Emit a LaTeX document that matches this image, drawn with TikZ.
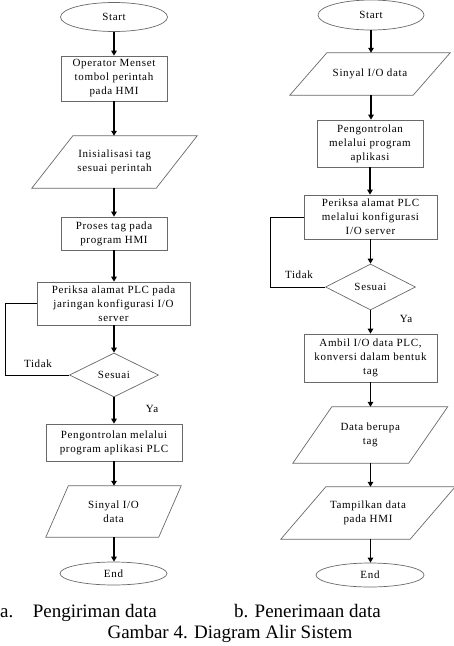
\documentclass[tikz,border=0pt]{standalone}
\usepackage{fontspec}
\setmainfont{Liberation Serif}
\newfontfamily\boxfont[LetterSpace=6]{Liberation Serif}
\usetikzlibrary{shapes.geometric,arrows.meta}
\newcommand\drawpara[2]{\draw[boxline] ([xshift=#2/2]#1.north west) -- ([xshift=#2/2]#1.north east) -- ([xshift=-#2/2]#1.south east) -- ([xshift=-#2/2]#1.south west) -- cycle;}
\definecolor{edgegray}{RGB}{105,105,105}
\tikzset{
  boxline/.style={draw=edgegray, line width=0.7pt},
  txt/.style={font=\boxfont\fontsize{11}{14}\selectfont, align=center, inner sep=0pt},
  procbox/.style={txt, boxline, rectangle},
  termbox/.style={txt, boxline, ellipse},
  decbox/.style={txt, boxline, diamond},
  iobox/.style={txt, rectangle},
  arr/.style={line width=1.6pt, -{Triangle[width=5.5pt,length=5pt]}},
  fb/.style={line width=0.8pt, black},
  lbl/.style={font=\boxfont\fontsize{11}{14}\selectfont, inner sep=0pt},
  captxt/.style={font=\fontsize{19}{22}\selectfont, inner sep=0pt}
}
\begin{document}
\begin{tikzpicture}[x=1pt, y=-1pt]
\useasboundingbox (0,0) rectangle (454,646);
% ---------- left column ----------
\node[termbox, minimum width=107pt, minimum height=29pt] (sA) at (114,17) {Start};
\node[procbox, minimum width=106pt, minimum height=45pt] (a1) at (114,78.5) {Operator Menset\\tombol perintah\\pada HMI};
\node[iobox, minimum width=124pt, minimum height=52pt] (a2) at (114.5,162) {Inisialisasi tag\\sesuai perintah};
\drawpara{a2}{41}
\node[procbox, minimum width=106pt, minimum height=33pt] (a3) at (114,233.5) {Proses tag pada\\program HMI};
\node[procbox, minimum width=153pt, minimum height=43pt] (a4) at (113.5,303.5) {Periksa alamat PLC pada\\jaringan konfigurasi I/O\\server};
\node[decbox, minimum width=89pt, minimum height=44pt] (dA) at (114,375) {Sesuai};
\node[procbox, minimum width=136pt, minimum height=37pt] (a5) at (114,442.5) {Pengontrolan melalui\\program aplikasi PLC};
\node[iobox, minimum width=112.5pt, minimum height=51pt] (a6) at (113.5,511.5) {Sinyal I/O\\data};
\drawpara{a6}{22.5}
\node[termbox, minimum width=107pt, minimum height=23pt] (eA) at (113.5,573.5) {End};
\draw[arr] (sA.south) -- (sA.south |- a1.north);
\draw[arr] (a1.south) -- (a1.south |- a2.north);
\draw[arr] (a1.south |- a2.south) -- (a1.south |- a3.north);
\draw[arr] (a3.south) -- (a3.south |- a4.north);
\draw[arr] (a3.south |- a4.south) -- (a3.south |- dA.north);
\draw[arr] (dA.south) -- (dA.south |- a5.north);
\draw[arr] (a5.south) -- (a5.south |- a6.north);
\draw[arr] (a5.south |- a6.south) -- (a5.south |- eA.north);
\coordinate (fbA) at (5,375);
\draw[fb] (dA.west) -- (fbA) |- (a4.west);
\node[lbl] (tA) at (38,364) {Tidak};
\node[lbl] (yA) at (152,409) {Ya};
% ---------- right column ----------
\node[termbox, minimum width=106pt, minimum height=30pt] (sB) at (371,15) {Start};
\node[iobox, minimum width=123pt, minimum height=42pt] (b1) at (370,74) {Sinyal I/O data};
\drawpara{b1}{37}
\node[procbox, minimum width=106pt, minimum height=47pt] (b2) at (370,143.5) {Pengontrolan\\melalui program\\aplikasi};
\node[procbox, minimum width=133pt, minimum height=44pt] (b3) at (370.5,217) {Periksa alamat PLC\\melalui konfigurasi\\I/O server};
\node[decbox, minimum width=90pt, minimum height=46pt] (dB) at (370.5,287) {Sesuai};
\node[procbox, minimum width=133pt, minimum height=48pt] (b4) at (370.5,358) {Ambil I/O data PLC,\\konversi dalam bentuk\\tag};
\node[iobox, minimum width=115.5pt, minimum height=56pt] (b5) at (370.25,435) {Data berupa\\tag};
\drawpara{b5}{39}
\node[iobox, minimum width=129pt, minimum height=52pt] (b6) at (368,513) {Tampilkan data\\pada HMI};
\drawpara{b6}{45}
\node[termbox, minimum width=108pt, minimum height=24pt] (eB) at (370,575) {End};
\draw[arr] (sB.south) -- (sB.south |- b1.north);
\draw[arr] (sB.south |- b1.south) -- (sB.south |- b2.north);
\draw[arr] (b2.south) -- (b2.south |- b3.north);
\draw[arr] (b3.south) -- (b3.south |- dB.north);
\draw[arr] (dB.south) -- (dB.south |- b4.north);
\draw[arr] (b4.south) -- (b4.south |- b5.north);
\draw[arr] (b4.south |- b5.south) -- (b4.south |- b6.north);
\draw[arr] (b4.south |- b6.south) -- (b4.south |- eB.north);
\coordinate (fbB) at (270,287);
\draw[fb] (dB.west) -- (fbB) |- (b3.west);
\node[lbl] (tB) at (299,275) {Tidak};
\node[lbl] (yB) at (406,319) {Ya};
% ---------- captions ----------
\node[captxt, anchor=base west] (ca) at (0,617) {a.};
\node[captxt, anchor=base east] (cA) at (157,617) {Pengiriman data};
\node[captxt, anchor=base east] (cB) at (381,617) {b. Penerimaan data};
\node[captxt, anchor=base] (cG) at (230,638) {Gambar 4. Diagram Alir Sistem};
\end{tikzpicture}
\end{document}
